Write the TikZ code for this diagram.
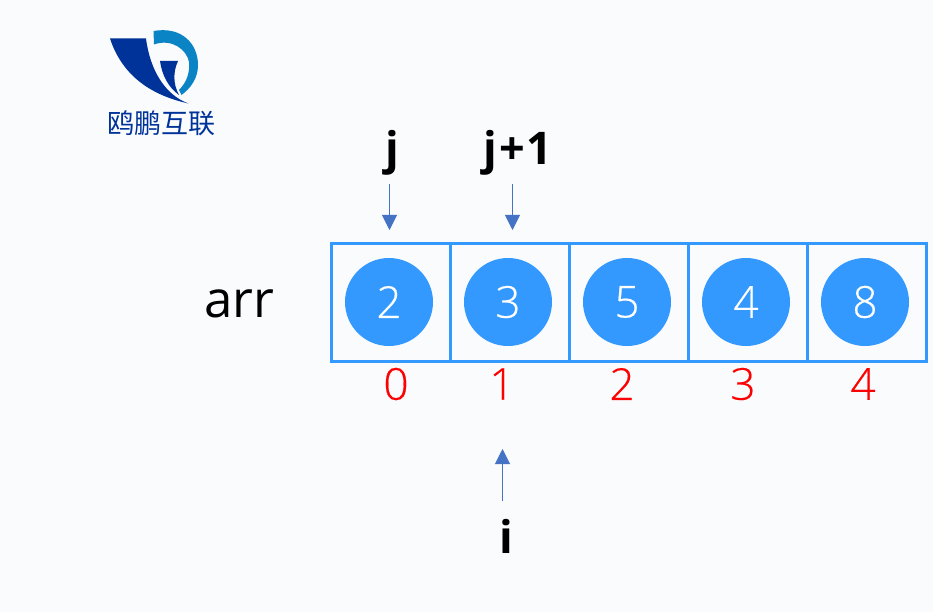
\documentclass[tikz,border=0pt]{standalone}
\usepackage{fontspec}
\setmainfont{Open Sans}
\newfontfamily\cjk{Noto Sans CJK SC}
\newfontfamily\lightf[FakeBold=0.4]{Open Sans Light}
\newfontfamily\ptrf[LetterSpace=4]{Open Sans}
\usetikzlibrary{arrows.meta}
\definecolor{bgc}{HTML}{F9FBFD}
\definecolor{cellblue}{HTML}{3399FF}
\definecolor{arrowblue}{HTML}{4472C4}
\definecolor{logodark}{HTML}{003399}
\definecolor{logolight}{HTML}{0B84C6}
\tikzset{
  cellbox/.style={draw=cellblue,line width=3pt,minimum width=119pt,minimum height=118pt,inner sep=0pt,anchor=center},
  disc/.style={circle,fill=cellblue,minimum size=88pt,inner sep=0pt,text=white,font=\lightf\fontsize{44}{44}\selectfont},
  idx/.style={text=red,font=\lightf\fontsize{44}{44}\selectfont,inner sep=0pt},
  ptr/.style={font=\ptrf\bfseries\fontsize{45}{45}\selectfont,text=black,inner sep=0pt},
  ptrline/.style={draw=arrowblue,line width=0.9pt,-{Triangle[length=15pt,width=15pt]}},
}
\begin{document}
\begin{tikzpicture}[x=1pt,y=-1pt]
\useasboundingbox (0,0) rectangle (933,612);
\fill[bgc] (0,0) rectangle (933,612);
% logo
\fill[logodark] (110,38.5) -- (146,38.5) .. controls (150,70) and (165,95) .. (188.5,103.5)
  .. controls (150,95) and (122,75) .. (110,38.5) -- cycle;
\fill[logodark] (160,61) -- (178,61) .. controls (173,72) and (173,84) .. (179,95)
  .. controls (168,87) and (162,75) .. (160,61) -- cycle;
\fill[logolight] (153.5,31) .. controls (182,26) and (198,44) .. (198,65)
  .. controls (198,78) and (191,88) .. (181.5,95) -- (179,90)
  .. controls (187,82) and (190,72) .. (189,62)
  .. controls (187,50) and (172,38) .. (154,44.5) -- cycle;
\node[font=\cjk\fontsize{27}{27}\selectfont,text=logodark,inner sep=0pt] (logotext) at (161.5,123) {鸥鹏互联};
% cells
\foreach \n/\cx in {a/391,b/510,c/629,d/748,e/867}{
  \node[cellbox] (cell\n) at (\cx,302) {};
}
\foreach \n/\cx/\v in {a/389/2,b/508/3,c/627/5,d/746/4,e/865/8}{
  \node[disc] (disc\n) at (\cx,302) {\v};
}
\foreach \n/\cx/\v in {a/396/0,b/502/1,c/622/2,d/743/3,e/863/4}{
  \node[idx] (idx\n) at (\cx,384) {\v};
}
\node[font=\fontsize{51}{51}\selectfont,text=black,inner sep=0pt] (arr) at (239,304) {arr};
\node[ptr,anchor=base] (j) at (392,165) {j};
\node[ptr,anchor=base] (jp) at (518,165) {j+1};
\node[ptr,anchor=base] (i) at (506,553) {i};
% arrows
\coordinate (ja) at (389.5,184);
\coordinate (jb) at (389.5,230);
\coordinate (ka) at (512.5,184);
\coordinate (kb) at (512.5,230);
\coordinate (ia) at (502.5,501);
\coordinate (ib) at (502.5,449);
\draw[ptrline] (ja) -- (jb);
\draw[ptrline] (ka) -- (kb);
\draw[ptrline] (ia) -- (ib);
\end{tikzpicture}
\end{document}
